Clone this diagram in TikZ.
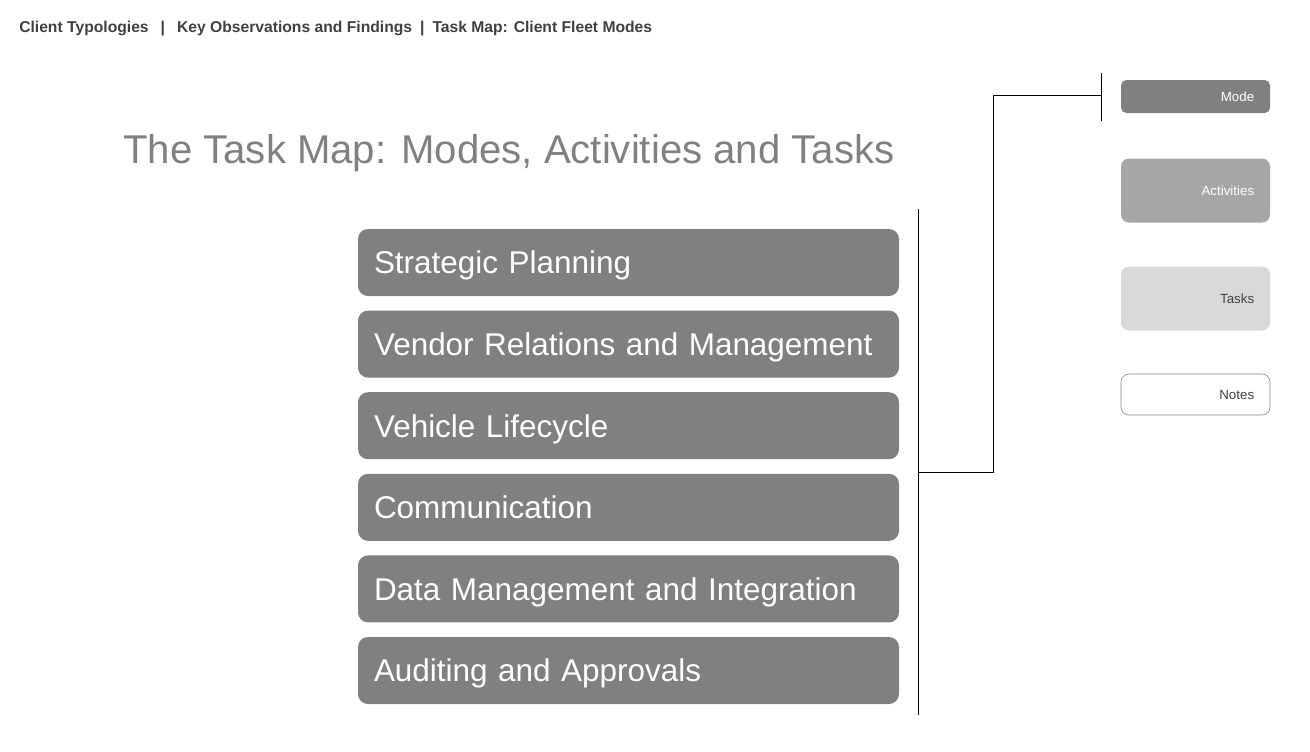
\documentclass[tikz,border=0pt]{standalone}
\usepackage{fontspec}
\setmainfont{Liberation Sans}
\usepackage{xcolor}
\usetikzlibrary{shapes, arrows.meta, calc, positioning}
\definecolor{modegray}{HTML}{808080}
\definecolor{actgray}{HTML}{A6A6A6}
\definecolor{taskgray}{HTML}{D9D9D9}
\definecolor{inkgray}{HTML}{404040}
\tikzstyle{mode} = [rectangle, rounded corners=7.5pt, fill=modegray, text=white,
    minimum width=405.75pt, minimum height=50.25pt, text width=381.75pt,
    align=left, inner xsep=12pt, text height=17pt, text depth=0pt,
    font=\fontsize{23.6}{26}\selectfont]
\tikzstyle{key} = [rectangle, rounded corners=6pt, minimum width=111.75pt,
    text width=88pt, align=right, inner xsep=11.5pt, text height=7.2pt, text depth=0pt,
    font=\fontsize{10}{12}\selectfont]
\tikzstyle{line} = [draw, line width=0.6pt]

\begin{document}
\begin{tikzpicture}[x=0.75pt, y=-0.75pt, node distance=61.2pt]
    \useasboundingbox (0,0) rectangle (1310,751);
    % Titles
    \node [anchor=base west, text=inkgray, inner sep=0pt, font=\bfseries\fontsize{11.75}{14}\selectfont]
        (crumbs) at (19,32) {Client Typologies\hspace{9pt}|\hspace{9pt}Key Observations and Findings\hspace{6pt}|\hspace{6pt}Task Map: Client Fleet Modes};
    \node [anchor=base west, text=modegray, inner sep=0pt, font=\fontsize{30.1}{34}\selectfont]
        (title) at (123,163) {The Task Map: Modes, Activities and Tasks};

    % Nodes
    \node [mode] (plan) at (628.5,262.5) {Strategic Planning};
    \node [mode, below of=plan] (vendor) {Vendor Relations and Management};
    \node [mode, below of=vendor] (vehicle) {Vehicle Lifecycle};
    \node [mode, below of=vehicle] (comms) {Communication};
    \node [mode, below of=comms] (data) {Data Management and Integration};
    \node [mode, below of=data] (audit) {Auditing and Approvals};

    % Key
    \node [key, rounded corners=4pt, fill=modegray, text=white, minimum height=24.75pt] (keymode) at (1195.5,96.5) {Mode};
    \node [key, fill=actgray, text=white, minimum height=48pt, below of=keymode, node distance=70.5pt] (keyact) {Activities};
    \node [key, fill=taskgray, text=inkgray, minimum height=48pt, below of=keyact, node distance=81pt] (keytask) {Tasks};
    \node [key, draw=modegray, fill=white, text=inkgray, minimum height=30.75pt, below of=keytask, node distance=72pt] (keynote) {Notes};

    % Edges
    \coordinate (modetop) at (918,209);
    \coordinate (modebot) at (918,715);
    \coordinate (modetap) at (918,472);
    \coordinate (elbow) at (993,472);
    \coordinate (keytop) at (1101,73);
    \coordinate (keybot) at (1101,121);
    \coordinate (keytap) at (1101,95);
    \path [line] (modetop) -- (modebot);
    \path [line] (keytop) -- (keybot);
    \path [line] (modetap) -- (elbow) |- (keytap);
\end{tikzpicture}
\end{document}
